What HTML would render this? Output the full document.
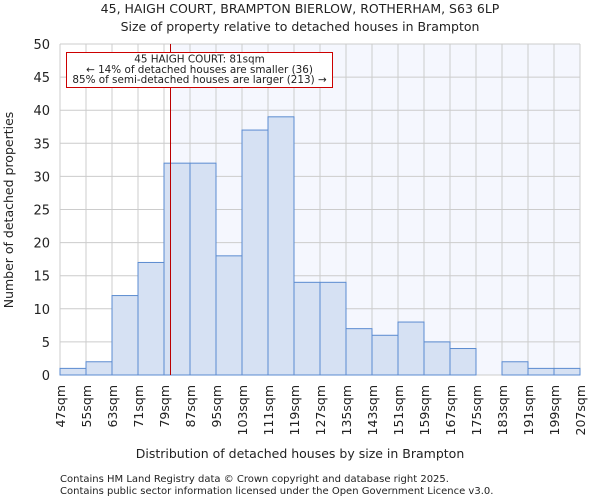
<!DOCTYPE html>
<html><head><meta charset="utf-8"><style>
body{margin:0;background:#fff;font-family:"DejaVu Sans","Liberation Sans",sans-serif;}
svg text{font-family:"DejaVu Sans","Liberation Sans",sans-serif;fill:#222}
</style></head><body>
<svg id="c" width="600" height="500">
<text x="300" y="13" text-anchor="middle" font-size="12.5">45, HAIGH COURT, BRAMPTON BIERLOW, ROTHERHAM, S63 6LP</text>
<text x="300" y="31" text-anchor="middle" font-size="12.5">Size of property relative to detached houses in Brampton</text>
<g id="plot"></g>
<text x="300" y="458" text-anchor="middle" font-size="12.5">Distribution of detached houses by size in Brampton</text>
<text transform="translate(13,210) rotate(-90)" text-anchor="middle" font-size="12.5">Number of detached properties</text>
<text x="60" y="482" font-size="10">Contains HM Land Registry data © Crown copyright and database right 2025.</text>
<text x="60" y="494" font-size="10">Contains public sector information licensed under the Open Government Licence v3.0.</text>
</svg>
<script>
const binStarts=[47,55,63,71,79,87,95,103,111,119,127,135,143,151,159,167,175,183,191,199];
const counts=[1,2,12,17,32,32,18,37,39,14,14,7,6,8,5,4,0,2,1,1];
const yTicks=[0,5,10,15,20,25,30,35,40,45,50];
const subject=81;
const NS="http://www.w3.org/2000/svg";
const L=60,R=580,T=44,B=375,xmin=47,xmax=207,ymax=50;
const x=v=>L+(v-xmin)/(xmax-xmin)*(R-L);
const y=v=>B-v/ymax*(B-T);
const g=document.getElementById('plot');
function mk(t,a){const e=document.createElementNS(NS,t);for(const k in a)e.setAttribute(k,a[k]);g.appendChild(e);return e;}
let e=mk('rect',{x:x(subject),y:T,width:R-x(subject),height:B-T,fill:'#f5f7fe'});


yTicks.forEach(t=>{
 let l=mk('line',{x1:L,x2:R,y1:y(t),y2:y(t),stroke:'#ccc','stroke-width':1});
 
 
 let tx=mk('text',{x:L-10,y:y(t)+5,'text-anchor':'end','font-size':13});
 tx.textContent=t;
 
 
});
const labels=binStarts.concat([xmax]);
labels.forEach(v=>{
 let l=mk('line',{x1:x(v),x2:x(v),y1:T,y2:B,stroke:'#ccc','stroke-width':1});
 
 
 let tx=mk('text',{transform:`translate(${x(v)+5},${B+10}) rotate(-90)`,'text-anchor':'end','font-size':12.5});
 tx.textContent=v+'sqm';
 
 
});
binStarts.forEach((s,i)=>{
 if(counts[i]<=0)return;
 let r=mk('rect',{x:x(s),y:y(counts[i]),width:x(s+8)-x(s),height:B-y(counts[i]),fill:'#d6e1f3',stroke:'#5b8bd0','stroke-width':1});
 
 
});
e=mk('line',{x1:x(subject),x2:x(subject),y1:T,y2:B,stroke:'#b00','stroke-width':1});


e=mk('rect',{x:66.5,y:52.5,width:266,height:35,fill:'#fff',stroke:'#c00','stroke-width':1});


['45 HAIGH COURT: 81sqm','← 14% of detached houses are smaller (36)','85% of semi-detached houses are larger (213) →'].forEach((s,i)=>{
 let t=mk('text',{x:199.5,y:62.5+i*10.3,'text-anchor':'middle','font-size':10.4});
 t.textContent=s;
 
 
});
</script>
</body></html>
